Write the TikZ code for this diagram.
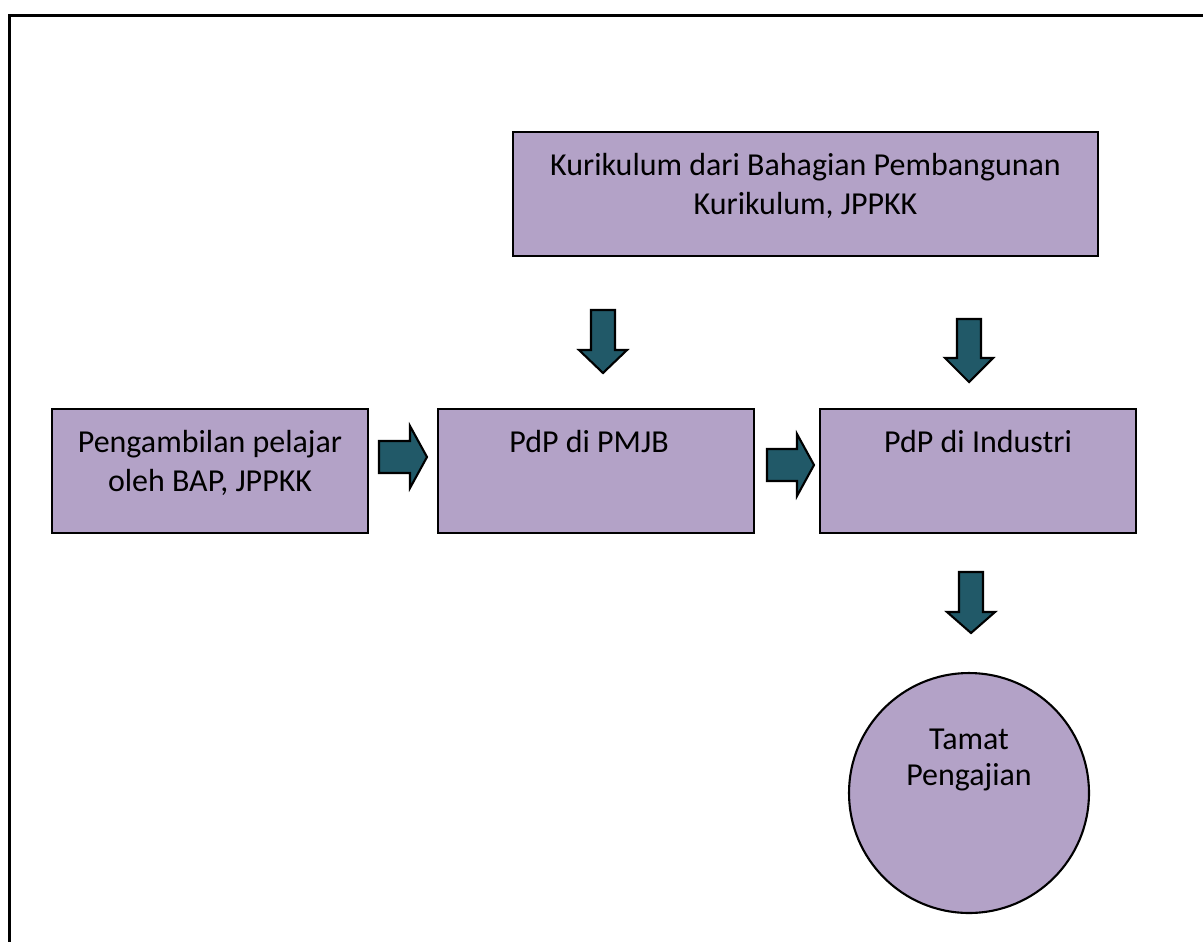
\documentclass[tikz,border=0pt]{standalone}
\usepackage{fontspec}
\setmainfont{Carlito}
\usepackage{xcolor}
\usepackage{tikz}
\usetikzlibrary{positioning}

\definecolor{boxlilac}{HTML}{B3A2C7}
\definecolor{arrowteal}{HTML}{215968}

\begin{document}
\begin{tikzpicture}[x=0.02cm,y=-0.02cm,
    box/.style={rectangle,draw=black,fill=boxlilac,line width=1.4pt,inner sep=0pt},
    boxtext/.style={inner sep=0pt,align=center,font=\fontsize{18.2}{22.5}\selectfont},
    blockarrow/.style={draw=black,fill=arrowteal,line width=1.2pt,line join=miter}]

    \useasboundingbox (0,0) rectangle (1203,941);

    % The frame
    \draw[line width=1.6pt] (9.5,960) -- (9.5,15.5) -- (1220,15.5);

    % The boxes
    \node [box,minimum width=11.7cm,minimum height=2.48cm] at (805.5,194) (kurikulum) {};
    \node [box,minimum width=6.32cm,minimum height=2.48cm] at (210,471) (ambil) {};
    \node [box,minimum width=6.32cm,minimum height=2.48cm] at (596,471) (pmjb) {};
    \node [box,minimum width=6.32cm,minimum height=2.48cm] at (978,471) (industri) {};
    \node [box,circle,line width=1.2pt,minimum size=4.8cm] at (969,793) (tamat) {};

    % Box texts
    \node [boxtext,below=0.33cm of kurikulum.north] (kurikulumtext)
        {\strut Kurikulum dari Bahagian Pembangunan\\Kurikulum, JPPKK};
    \node [boxtext,below=0.33cm of ambil.north] (ambiltext)
        {\strut Pengambilan pelajar\\oleh BAP, JPPKK};
    \node [boxtext,below=0.33cm of pmjb.north,xshift=-0.14cm] (pmjbtext) {\strut PdP di PMJB};
    \node [boxtext,below=0.33cm of industri.north] (industritext) {\strut PdP di Industri};
    \node [boxtext,font=\fontsize{18.2}{20}\selectfont,below=1.06cm of tamat.north] (tamattext)
        {\strut Tamat\\Pengajian};

    % Block arrows
    \draw[blockarrow] (379,441) -- (410,441) -- (410,426) -- (427,457)
        -- (410,488) -- (410,473) -- (379,473) -- cycle;
    \draw[blockarrow] (767,449) -- (797,449) -- (797,434) -- (814,465)
        -- (797,496) -- (797,481) -- (767,481) -- cycle;
    \draw[blockarrow] (591,310) -- (615,310) -- (615,350) -- (627,350)
        -- (603,373) -- (579,350) -- (591,350) -- cycle;
    \draw[blockarrow] (957,319) -- (981,319) -- (981,358) -- (993,358)
        -- (969,382) -- (945,358) -- (957,358) -- cycle;
    \draw[blockarrow] (959,572) -- (983,572) -- (983,612) -- (995,612)
        -- (971,633) -- (947,612) -- (959,612) -- cycle;

\end{tikzpicture}
\end{document}
